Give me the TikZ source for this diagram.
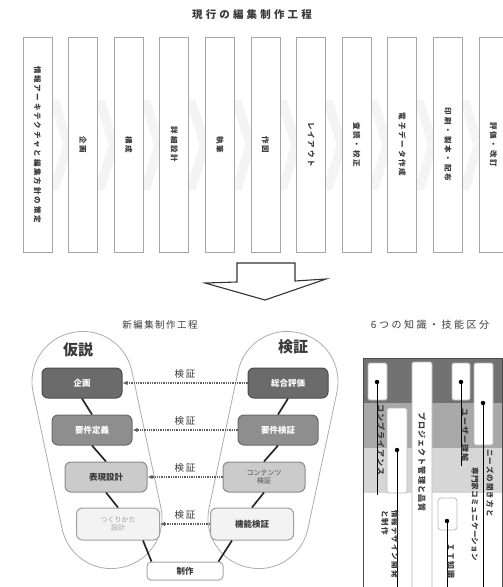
\documentclass[tikz,border=0pt]{standalone}
\usepackage{fontspec}
\setmainfont{Noto Sans CJK JP}
\usetikzlibrary{arrows.meta,calc}
\definecolor{vA}{HTML}{6B6B6B}
\definecolor{vAd}{HTML}{4A4A4A}
\definecolor{vB}{HTML}{8E8E8E}
\definecolor{vBd}{HTML}{6A6A6A}
\definecolor{vC}{HTML}{CBCBCB}
\definecolor{vCd}{HTML}{8A8A8A}
\definecolor{vD}{HTML}{F3F3F3}
\definecolor{vDd}{HTML}{A0A0A0}
\definecolor{bandA}{HTML}{727272}
\definecolor{bandB}{HTML}{A8A8A8}
\definecolor{bandC}{HTML}{D6D6D6}
\definecolor{txt}{HTML}{3A3A3A}
\begin{document}
\begin{tikzpicture}[x=1pt,y=-1pt,
  font=\fontsize{8}{9.5}\selectfont,
  topbox/.style={draw=gray!70,line width=1pt,fill=white,rotate=-90,
    minimum width=215pt,minimum height=29pt,inner sep=0pt,text=txt,
    font=\fontsize{7.5}{9}\selectfont\bfseries\addfontfeature{LetterSpace=25}},
  chev/.style={fill=gray!9,draw=none},
  vbox/.style={rounded corners=6pt,minimum height=30pt,line width=1pt,inner sep=1pt,
    align=center,font=\fontsize{8.5}{10}\selectfont\bfseries},
  capsule/.style={draw=gray!65,line width=0.8pt,rounded corners=50pt,
    minimum width=101pt,minimum height=240pt},
  conn/.style={line width=1.7pt,black!85},
  verif/.style={densely dotted,line width=1.3pt,gray!75!black,-{Latex[length=5pt,width=4.5pt]}},
  vlab/.style={font=\fontsize{9.5}{10}\selectfont\addfontfeature{LetterSpace=20},text=txt,inner sep=1pt},
  head/.style={font=\fontsize{15}{16}\selectfont\bfseries,text=txt},
  cbox/.style={draw=gray!55,line width=0.8pt,fill=white,rounded corners=1.5pt},
  cdot/.style={circle,fill=black,inner sep=0pt,minimum size=4.5pt},
  cline/.style={line width=0.7pt,black},
  ctext/.style={rotate=-90,inner sep=0pt,text=txt,
    font=\fontsize{8}{9}\selectfont\bfseries\addfontfeature{LetterSpace=14}},
  title/.style={text=txt,inner sep=0pt}
]
\useasboundingbox (0,0) rectangle (503,587);
\clip (0,0) rectangle (503,587);

% ---------- current process ----------
\node[title,font=\fontsize{10.5}{12}\selectfont\bfseries\addfontfeature{LetterSpace=30}] (title1) at (252,15) {現行の編集制作工程};

\foreach \i in {0,...,9}{
  \fill[chev] ({23+45.6*\i+26},100) -- ({23+45.6*\i+36},100) -- ({23+45.6*\i+50},145)
     -- ({23+45.6*\i+36},190) -- ({23+45.6*\i+26},190) -- ({23+45.6*\i+40},145) -- cycle;
}
\foreach \i/\lab in {0/情報アーキテクチャと編集方針の策定,1/企画,2/構成,3/詳細設計,4/執筆,5/作図,6/レイアウト,7/査読・校正,8/電子データ作成,9/印刷・製本・配布,10/評価・改訂}{
  \node[topbox] (t\i) at ({37.5+45.6*\i},144.5) {\lab};
}

% ---------- down arrow ----------
\draw[gray!40!black,line width=1.1pt,line join=miter,fill=white]
  (237,263) -- (295,263) -- (295,281) -- (326,279) -- (265,300) -- (205,283) -- (237,282) -- cycle;

\node[title,font=\fontsize{9.5}{11}\selectfont\addfontfeature{LetterSpace=15}] (title2) at (160,325) {新編集制作工程};
\node[title,font=\fontsize{10}{11}\selectfont\addfontfeature{LetterSpace=25}] (title3) at (430,325) {6つの知識・技能区分};

% ---------- V model ----------
\node[capsule,rotate=12] (lcap) at (97,450) {};
\node[capsule,rotate=-12] (rcap) at (273,450) {};
\node[head] (kasetsu) at (78,350) {仮説};
\node[head] (kensho) at (293,347) {検証};

\node[vbox,minimum width=80pt,fill=vA,draw=vAd,text=white] (kikaku) at (82,383) {企画};
\node[vbox,minimum width=80pt,fill=vB,draw=vBd,text=white] (youken) at (92,430) {要件定義};
\node[vbox,minimum width=82pt,fill=vC,draw=vCd,text=txt] (hyogen) at (106,477) {表現設計};
\node[vbox,minimum width=83pt,minimum height=32pt,fill=vD,draw=vDd,text=gray!75,
      font=\fontsize{7}{8.5}\selectfont] (tsukuri) at (118,524) {つくりかた\\設計};
\node[vbox,minimum width=76pt,minimum height=18pt,rounded corners=4pt,fill=white,draw=gray!70,text=txt] (seisaku) at (185,571) {制作};

\node[vbox,minimum width=80pt,fill=vA,draw=vAd,text=white] (sogo) at (288,383) {総合評価};
\node[vbox,minimum width=80pt,fill=vB,draw=vBd,text=white] (youkenk) at (278,430) {要件検証};
\node[vbox,minimum width=82pt,fill=vC,draw=vCd,text=gray!60!black,
      font=\fontsize{7}{8.5}\selectfont] (content) at (264,477) {コンテンツ\\検証};
\node[vbox,minimum width=83pt,minimum height=32pt,fill=vD,draw=vDd,text=txt] (kino) at (252,524) {機能検証};

\draw[conn] (kikaku.south) -- (youken.north);
\draw[conn] (youken.south) -- (hyogen.north);
\draw[conn] (hyogen.south) -- (tsukuri.north);
\draw[conn] ($(tsukuri.south)+(25,0)$) -- ($(seisaku.north west)+(5,0)$);
\draw[conn] ($(seisaku.north east)+(-5,0)$) -- ($(kino.south)+(-20,0)$);
\draw[conn] (kino.north) -- (content.south);
\draw[conn] (content.north) -- (youkenk.south);
\draw[conn] (youkenk.north) -- (sogo.south);

\draw[verif] (sogo.west) -- (kikaku.east) node[midway,above=3pt,vlab] {検証};
\draw[verif] (youkenk.west) -- (youken.east) node[midway,above=3pt,vlab] {検証};
\draw[verif] (content.west) -- (hyogen.east) node[midway,above=3pt,vlab] {検証};
\draw[verif] (kino.west) -- (tsukuri.east) node[midway,above=3pt,vlab] {検証};

% ---------- knowledge chart ----------
\fill[bandA] (363,358) rectangle (502,403);
\fill[bandB] (363,403) rectangle (502,448);
\fill[bandC] (363,448) rectangle (502,493);
\draw[gray!60!black,line width=1pt] (363,590) -- (363,358) -- (502,358) -- (502,590);

% コンプライアンス
\draw[cbox] (368,363) rectangle (387,400);
\node[cdot] (d1) at (377,382) {};
\coordinate (e1) at (377,495);
\draw[cline] (d1) -- (e1);
\node[ctext,anchor=west] (k1) at (381,404) {コンプライアンス};

% 情報デザイン開発と制作
\draw[cbox] (387,408) rectangle (407,493);
\node[cdot] (d2) at (397,450) {};
\coordinate (e2) at (397,590);
\draw[cline] (d2) -- (e2);
\node[ctext,anchor=west,align=left,font=\fontsize{7.5}{10}\selectfont\bfseries\addfontfeature{LetterSpace=14}] (k2) at (390,510) {情報デザイン開発\\と制作};

% プロジェクト管理と品質
\draw[cbox] (412,362) rectangle (432,592);
\node[ctext,anchor=west] (k3) at (422,412) {プロジェクト管理と品質};

% ユーザー理解
\draw[cbox] (452,363) rectangle (470,400);
\node[cdot] (d4) at (461,382) {};
\coordinate (e4) at (461,466);
\draw[cline] (d4) -- (e4);
\node[ctext,anchor=west] (k4) at (465,408) {ユーザー理解};

% ニーズの聞き方と専門家コミュニケーション
\draw[cbox] (474,363) rectangle (493,445);
\node[cdot] (d5) at (483,403) {};
\coordinate (e5) at (483,590);
\draw[cline] (d5) -- (e5);
\node[ctext,anchor=west,font=\fontsize{7.5}{9}\selectfont\bfseries\addfontfeature{LetterSpace=15}] (k5a) at (490,449) {ニーズの聞き方と};
\node[ctext,anchor=west,font=\fontsize{7.5}{9}\selectfont\bfseries\addfontfeature{LetterSpace=5}] (k5b) at (475,467) {専門家コミュニケーション};

% IT知識
\draw[cbox,rounded corners=3pt] (438,498) rectangle (457,530);
\node[cdot] (d6) at (447,521) {};
\coordinate (e6) at (447,590);
\draw[cline] (d6) -- (e6);
\node[ctext,anchor=west] (k6) at (451,543) {ＩＴ知識};
\end{tikzpicture}
\end{document}
